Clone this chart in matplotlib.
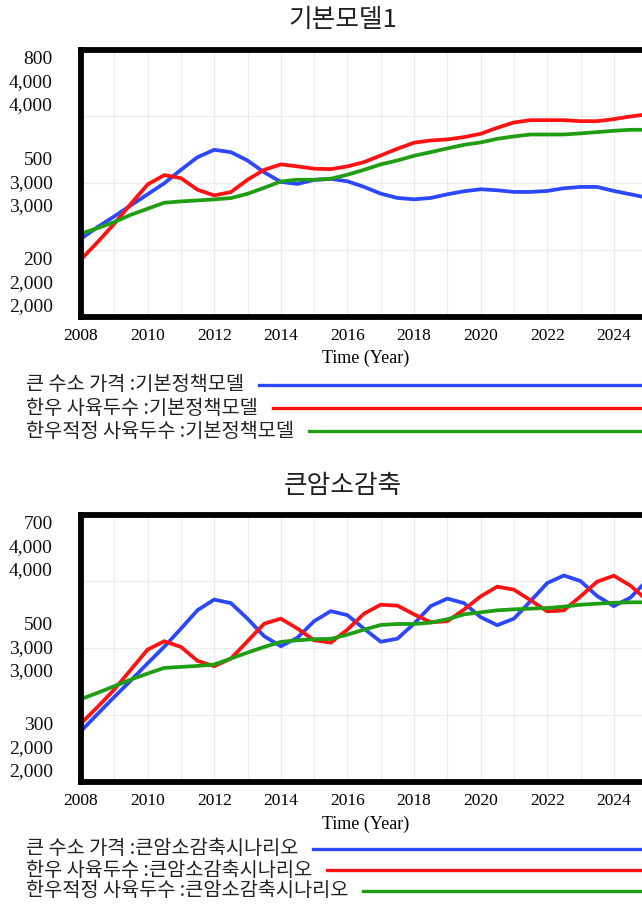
import numpy as np
import matplotlib
matplotlib.use("Agg")
import matplotlib.pyplot as plt
from matplotlib.lines import Line2D

plt.rcParams['font.family'] = ['Noto Sans CJK KR', 'DejaVu Sans']

years = np.arange(2008, 2025.5, 0.5)

# baseline scenario
base_price = [334, 369, 401, 434, 467, 500, 540, 578, 600, 593, 568, 533, 504, 498,
              510, 513, 506, 489, 469, 456, 452, 456, 467, 476, 482, 479, 474, 474,
              477, 485, 489, 489, 477, 467, 457]
base_herd = [2241, 2414, 2597, 2796, 2988, 3081, 3051, 2935, 2879, 2912, 3035, 3134,
             3188, 3168, 3145, 3141, 3168, 3211, 3277, 3344, 3404, 3427, 3437, 3460,
             3493, 3553, 3606, 3629, 3629, 3629, 3619, 3619, 3639, 3666, 3686]
base_target = [2497, 2553, 2613, 2686, 2746, 2806, 2819, 2829, 2839, 2852, 2895, 2955,
               3018, 3035, 3035, 3045, 3085, 3134, 3188, 3227, 3274, 3310, 3347, 3383,
               3407, 3443, 3467, 3486, 3486, 3486, 3497, 3510, 3523, 3533, 3533]

# cow reduction scenario
cut_price = [335, 369, 403, 436, 470, 503, 539, 576, 597, 590, 559, 524, 504, 521,
             554, 574, 566, 539, 513, 519, 549, 584, 599, 590, 562, 546, 559, 594,
             630, 645, 634, 604, 584, 601, 635]
cut_herd = [2250, 2416, 2589, 2788, 2987, 3070, 3013, 2874, 2821, 2897, 3070, 3245,
            3295, 3196, 3080, 3056, 3186, 3345, 3434, 3425, 3338, 3259, 3269, 3385,
            3517, 3614, 3584, 3478, 3368, 3378, 3517, 3664, 3723, 3624, 3478]
cut_target = [2493, 2556, 2622, 2688, 2748, 2804, 2814, 2824, 2838, 2897, 2957, 3013,
              3063, 3080, 3090, 3093, 3136, 3186, 3232, 3242, 3242, 3255, 3289, 3338,
              3358, 3378, 3388, 3395, 3401, 3415, 3434, 3444, 3454, 3458, 3458]

panels = [
    dict(title='기본모델1', scen='기본정책모델',
         series=[base_price, base_herd, base_target],
         ticks=[(200, 500, 800), (2000, 3000, 4000), (2000, 3000, 4000)]),
    dict(title='큰암소감축', scen='큰암소감축시나리오',
         series=[cut_price, cut_herd, cut_target],
         ticks=[(300, 500, 700), (2000, 3000, 4000), (2000, 3000, 4000)]),
]
names = ['큰 수소 가격', '한우 사육두수', '한우적정 사육두수']
colors = ['#2b48ff', '#ff1212', '#1f9e14']

W, H = 642, 906
fig = plt.figure(figsize=(W / 100, H / 100), dpi=100)
serif = 'Liberation Serif'

# pixel layout per panel:
# (axes top, axes bottom, title y, legend first row y, legend row step, xlabel gap)
layout = [(49.5, 317, 20, 384.5, 23.5, 33), (514.5, 782, 486, 849, 21, 34)]
x0_px, px_per_year = 81, 33.3
xmin, xmax = 2008, 2026
width_px = (xmax - xmin) * px_per_year

renderer = fig.canvas.get_renderer()

for p, (top, bot, ty, ly, step, gap) in zip(panels, layout):
    rect = [x0_px / W, 1 - bot / H, width_px / W, (bot - top) / H]
    ax = fig.add_axes(rect)
    ax.set_xlim(xmin, xmax)
    ax.set_ylim(0, 1)
    ax.set_yticks([0.25, 0.5, 0.75])
    ax.set_yticklabels([])
    ax.set_xticks(range(2008, 2026))
    ax.set_xticklabels([str(y) if y % 2 == 0 else '' for y in range(2008, 2026)],
                       family=serif, fontsize=12.5)
    ax.tick_params(length=0, pad=8)
    ax.grid(True, color='#ececec', linewidth=0.8)
    ax.set_axisbelow(True)
    ax.set_xlabel('Time (Year)', family=serif, fontsize=13)
    ax.xaxis.set_label_coords((366 - x0_px) / width_px, -gap / (bot - top))
    for s in ax.spines.values():
        s.set_visible(False)

    axes = []
    for k, (vals, tk, c) in enumerate(zip(p['series'], p['ticks'], colors)):
        a = ax.twinx()
        span = (tk[2] - tk[0]) / 0.75
        a.set_ylim(tk[0] - span / 8, tk[0] - span / 8 + span)
        a.set_yticks([])
        for s in a.spines.values():
            s.set_visible(False)
        a.plot(years, vals, color=c, linewidth=2.7, solid_joinstyle='miter')
        off = [23, 0, -23][k]
        for v in tk:
            a.annotate(f'{v:,}', xy=(0, v), xycoords=('axes fraction', 'data'),
                       xytext=(-28, off), textcoords='offset pixels',
                       ha='right', va='center', family=serif, fontsize=14,
                       color='#111111')
        axes.append(a)

    frame = axes[-1]
    for s in frame.spines.values():
        s.set_visible(True)
        s.set_linewidth(4.2)
        s.set_color('black')

    fig.text(343 / W, 1 - ty / H, p['title'], ha='center', va='center',
             fontsize=18.5, color='#222222')

    for k, (nm, c) in enumerate(zip(names, colors)):
        yy = 1 - (ly + step * k) / H
        t = fig.text(26 / W, yy, f'{nm} :{p["scen"]}', ha='left', va='center',
                     fontsize=14.2, color='#222222')
        bb = t.get_window_extent(renderer)
        fig.add_artist(Line2D([(bb.x1 + 15) / W, 1.0], [yy, yy], color=c,
                              linewidth=2.4, transform=fig.transFigure))

fig.savefig('out.png', dpi=100)
